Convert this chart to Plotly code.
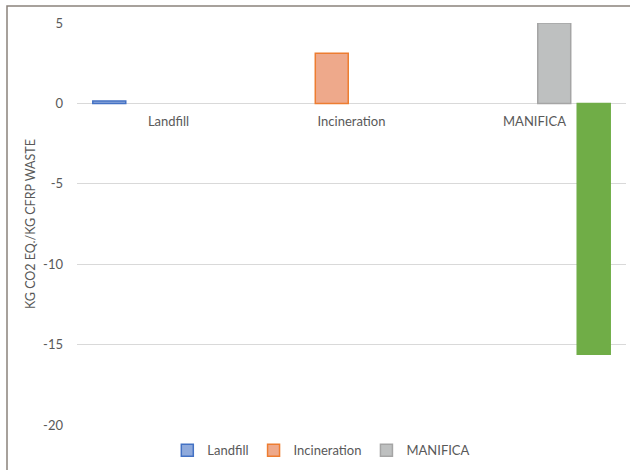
import plotly.graph_objects as go

categories = ["Landfill", "Incineration", "MANIFICA"]
series_names = ["Landfill", "Incineration", "MANIFICA", "MANIFICA avoided"]
landfill_vals = [0.15, None, None]
incineration_vals = [None, 3.12, None]
manifica_vals = [None, None, 5.0]
manifica_avoided_vals = [None, None, -15.6]
y_ticks = [5, 0, -5, -10, -15, -20]
y_tick_text = [str(v) for v in y_ticks]

fills = ["#8FAADC", "#EEA98B", "#BEC0C0", "#70AD47"]
borders = ["#4472C4", "#ED7D31", "#A5A5A5", "#70AD47"]
show = [True, True, True, False]
all_vals = [landfill_vals, incineration_vals, manifica_vals, manifica_avoided_vals]

FONT = "Lato"
TXT = "#595959"

fig = go.Figure()
for name, vals, f, b, s in zip(series_names, all_vals, fills, borders, show):
    fig.add_trace(go.Bar(
        x=categories, y=vals, name=name, showlegend=s,
        marker=dict(color=f, line=dict(color=b, width=1.5)),
    ))

fig.update_layout(
    width=630, height=470,
    margin=dict(l=77, r=4, t=23, b=45),
    paper_bgcolor="white", plot_bgcolor="white",
    barmode="group", bargap=0.137, bargroupgap=0.165,
    font=dict(family=FONT, size=13, color=TXT),
    legend=dict(orientation="h", x=0.445, xanchor="center", y=-0.063, yanchor="middle",
                font=dict(family=FONT, size=13, color=TXT), itemwidth=30,
                bgcolor="rgba(0,0,0,0)"),
    xaxis=dict(anchor="free", position=0.8, showgrid=False, showline=False,
               ticks="", ticklabelstandoff=9, tickfont=dict(family=FONT, size=13, color=TXT),
               zeroline=False),
    yaxis=dict(range=[-20, 5], tickvals=y_ticks, ticktext=y_tick_text,
               showgrid=True, gridcolor="#D9D9D9",
               gridwidth=1, zeroline=True, zerolinecolor="#D9D9D9", zerolinewidth=1,
               showline=False, ticks="", ticklabelstandoff=13,
               tickfont=dict(family=FONT, size=13, color=TXT),
               title=dict(text="KG CO2 EQ./KG CFRP WASTE", standoff=4,
                          font=dict(family=FONT, size=12.5, color=TXT)),
               automargin=False),
    shapes=[dict(type="rect", xref="paper", yref="paper",
                 x0=-0.1275, x1=1.5, y0=-0.5, y1=1.0423,
                 line=dict(color="#8A827C", width=1.5), fillcolor="rgba(0,0,0,0)",
                 layer="below")],
)

fig.write_html("out.html")
